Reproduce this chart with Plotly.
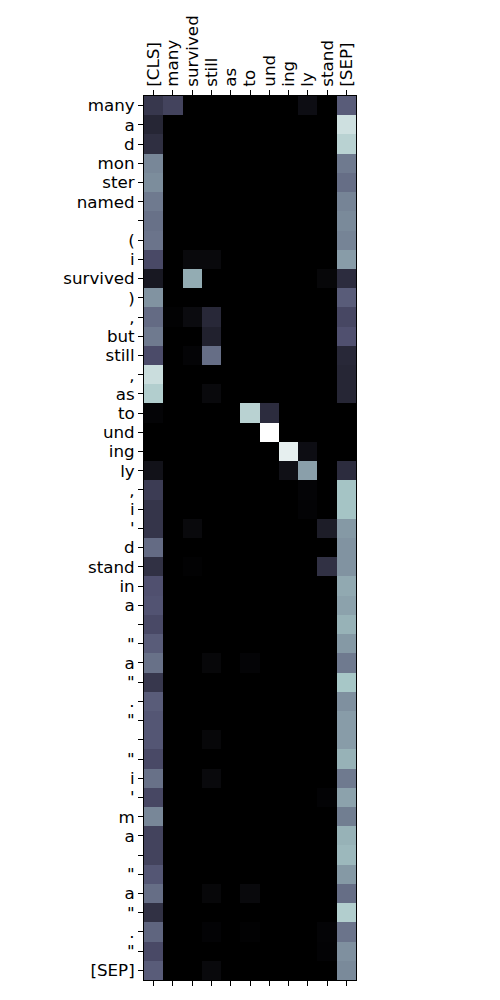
import plotly.graph_objects as go

col_labels = ["[CLS]", "many", "survived", "still", "as", "to", "und", "ing", "ly", "stand", "[SEP]"]
row_labels = ["many", "a", "d", "mon", "ster", "named", "", "(", "i", "survived", ")", ",", "but",
              "still", ",", "as", "to", "und", "ing", "ly", ",", "i", "'", "d", "stand", "in", "a",
              "", "\"", "a", "\"", ".", "\"", "", "\"", "i", "'", "m", "a", "", "\"", "a", "\"", ".",
              "\"", "[SEP]"]

N = 46
v_cls = [0.25, 0.17, 0.21, 0.54, 0.56, 0.50, 0.47, 0.48, 0.33, 0.11, 0.58, 0.45, 0.50, 0.34, 0.85,
         0.78, 0.02, 0.0, 0.0, 0.08, 0.27, 0.24, 0.24, 0.45, 0.22, 0.36, 0.37, 0.33, 0.40, 0.47,
         0.25, 0.40, 0.38, 0.38, 0.33, 0.47, 0.32, 0.54, 0.30, 0.30, 0.38, 0.46, 0.22, 0.43, 0.33,
         0.40]
v_sep = [0.40, 0.86, 0.80, 0.50, 0.46, 0.53, 0.55, 0.53, 0.61, 0.20, 0.40, 0.32, 0.36, 0.18, 0.17,
         0.17, 0.0, 0.0, 0.0, 0.20, 0.74, 0.74, 0.60, 0.58, 0.58, 0.65, 0.63, 0.68, 0.60, 0.50,
         0.75, 0.57, 0.61, 0.61, 0.68, 0.50, 0.63, 0.51, 0.68, 0.70, 0.60, 0.46, 0.78, 0.48, 0.57,
         0.55]

# sparse middle columns: {row index: value}
v_many = {0: 0.30, 11: 0.01}
v_survived = {8: 0.04, 9: 0.66, 11: 0.05, 13: 0.02, 22: 0.04, 24: 0.01}
v_still = {8: 0.04, 11: 0.18, 12: 0.15, 13: 0.46, 15: 0.04, 29: 0.03, 33: 0.03, 35: 0.04,
           41: 0.03, 43: 0.015, 45: 0.04}
v_as = {}
v_to = {16: 0.80, 29: 0.02, 41: 0.04, 43: 0.01}
v_und = {16: 0.20, 17: 1.0}
v_ing = {18: 0.93, 19: 0.07}
v_ly = {0: 0.06, 18: 0.06, 19: 0.62, 20: 0.02, 21: 0.015}
v_stand = {9: 0.03, 22: 0.13, 24: 0.22, 36: 0.015, 43: 0.02, 44: 0.015}


def dense(d):
    return [d.get(i, 0.0) for i in range(N)]


columns = [v_cls, dense(v_many), dense(v_survived), dense(v_still), dense(v_as), dense(v_to),
           dense(v_und), dense(v_ing), dense(v_ly), dense(v_stand), v_sep]
z = [[columns[c][r] for c in range(len(col_labels))] for r in range(N)]

bone = [[0.0, "rgb(0,0,0)"], [0.365079, "rgb(81,81,113)"],
        [0.746032, "rgb(166,198,198)"], [1.0, "rgb(255,255,255)"]]

fig = go.Figure(go.Heatmap(
    z=z, x=list(range(len(col_labels))), y=list(range(N)),
    colorscale=bone, zmin=0, zmax=1, showscale=False, hoverinfo="skip"))

font = dict(family="DejaVu Sans", size=16.7, color="black")
fig.update_layout(
    width=500, height=1000,
    margin=dict(l=144, r=144, t=96, b=20),
    paper_bgcolor="white", plot_bgcolor="white",
    font=font,
    xaxis=dict(side="top", tickmode="array", tickvals=list(range(len(col_labels))),
               ticktext=col_labels, tickangle=-90, ticks="outside", ticklen=5, tickwidth=1,
               tickcolor="black", showline=True, linecolor="black", linewidth=1,
               mirror="ticks", showgrid=False, zeroline=False,
               range=[-0.5, len(col_labels) - 0.5], tickfont=font),
    yaxis=dict(tickmode="array", tickvals=list(range(N)), ticktext=row_labels,
               ticks="outside", ticklen=5, tickwidth=1, tickcolor="black",
               showline=True, linecolor="black", linewidth=1, mirror=True,
               showgrid=False, zeroline=False, range=[N - 0.5, -0.5], tickfont=font),
)

fig.write_html("out.html")
